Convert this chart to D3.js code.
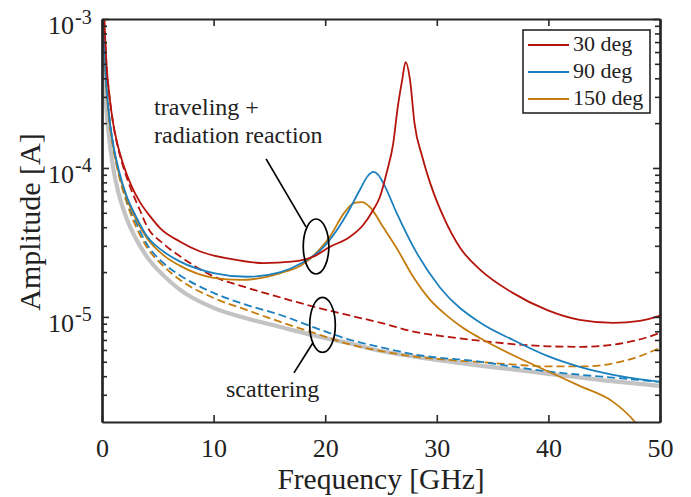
<!DOCTYPE html>
<html><head><meta charset="utf-8">
<script src="https://cdn.jsdelivr.net/npm/d3@7"></script>
<style>
body{margin:0;background:#fff}
svg{display:block;background:#fff}
text{font-family:"Liberation Serif","Times New Roman",serif;fill:#222}
</style>
</head><body>
<svg id="c" width="691" height="497"></svg>
<script>
// ---------- data (frequency in GHz, amplitude in A) ----------
const xTicks = [0, 10, 20, 30, 40, 50];
const yMajor = [1e-3, 1e-4, 1e-5];
const yMajorLabels = ["-3", "-4", "-5"];
const seriesNames = ["30 deg", "90 deg", "150 deg"];

// 30 deg traveling + radiation reaction (solid)
const redSolidF = [0.2,0.4,0.7,1.0,1.4,1.9,2.6,3.4,4.3,5.2,7,8.8,11.5,14.5,17,19,20.4,22.2,23.4,24.3,24.9,25.5,26.1,26.5,26.9,27.2,27.6,28.0,28.7,29.4,30.6,32.1,33.9,36.8,39.9,42.8,45.8,48.2,50];
const redSolidV = [1e-3,5e-4,2.9e-4,2.0e-4,1.43e-4,1.06e-4,7.7e-5,5.9e-5,4.75e-5,3.95e-5,3.2e-5,2.75e-5,2.45e-5,2.3e-5,2.35e-5,2.55e-5,2.95e-5,3.44e-5,4.14e-5,5.22e-5,6.38e-5,9.24e-5,1.47e-4,2.56e-4,3.9e-4,5.14e-4,3.9e-4,2.0e-4,1.19e-4,7.94e-5,4.69e-5,2.9e-5,2.07e-5,1.45e-5,1.11e-5,9.55e-6,9.12e-6,9.4e-6,1.02e-5];
// 90 deg (solid)
const blueSolidF = [0.15,0.3,0.6,1.0,1.5,2.2,3,4,5.5,7,10,13,16,17.9,19.6,20.4,22,23.1,23.8,24.3,24.8,25.2,26.4,27.9,30.3,33.9,36.8,39.9,42.8,45.8,50];
const blueSolidV = [1e-3,4.8e-4,2.4e-4,1.45e-4,9.7e-5,6.5e-5,4.8e-5,3.5e-5,2.75e-5,2.35e-5,1.97e-5,1.86e-5,2.0e-5,2.3e-5,2.82e-5,3.29e-5,4.99e-5,7.11e-5,8.8e-5,9.4e-5,8.9e-5,7.94e-5,4.99e-5,2.95e-5,1.57e-5,9.12e-6,7.02e-6,5.47e-6,4.62e-6,4.08e-6,3.66e-6];
// 150 deg (solid)
const orangeSolidF = [0.14,0.3,0.6,1.0,1.5,2.2,3,4,5.5,7,10,12.4,16,17.9,19.7,20.4,21.7,22.6,23.3,24,25.2,26.4,27.9,29.4,30.9,32.3,33.9,36.8,39.9,42.8,45.8,47.8,48.6];
const orangeSolidV = [1e-3,4.6e-4,2.3e-4,1.4e-4,9.3e-5,6.3e-5,4.6e-5,3.4e-5,2.6e-5,2.2e-5,1.83e-5,1.77e-5,1.97e-5,2.23e-5,2.95e-5,3.44e-5,4.99e-5,5.82e-5,5.9e-5,5.47e-5,4.0e-5,2.9e-5,1.85e-5,1.3e-5,1.02e-5,8.5e-6,7.2e-6,5.55e-6,4.33e-6,3.44e-6,2.69e-6,1.95e-6,1.6e-6];
// scattering (dashed)
const redDashF = [0.2,0.4,0.7,1.0,1.4,1.9,2.6,3.4,4,5.5,7,10,13,16,19,22,25,28,31,34,37,40,43,46,48,50];
const redDashV = [1e-3,5e-4,2.9e-4,1.98e-4,1.4e-4,1.02e-4,7.2e-5,5.2e-5,4.1e-5,3.1e-5,2.55e-5,1.87e-5,1.57e-5,1.35e-5,1.17e-5,1.03e-5,9.12e-6,7.94e-6,7.35e-6,6.9e-6,6.55e-6,6.35e-6,6.3e-6,6.55e-6,7.0e-6,7.8e-6];
const blueDashF = [0.15,0.3,0.6,1.0,1.5,2.2,3,4,5.5,7,10,13,16,19,22,25,28,34,37,40,43,46,50];
const blueDashV = [1e-3,4.8e-4,2.4e-4,1.42e-4,9.4e-5,6.2e-5,4.4e-5,3.1e-5,2.3e-5,1.9e-5,1.45e-5,1.2e-5,1.03e-5,8.5e-6,7.1e-6,6.25e-6,5.6e-6,4.99e-6,4.62e-6,4.3e-6,4.08e-6,3.9e-6,3.66e-6];
const orangeDashF = [0.14,0.3,0.6,1.0,1.5,2.2,3,4,5.5,7,10,13,16,19,22,25,28,31,34,37,40,43,46,48,50];
const orangeDashV = [1e-3,4.6e-4,2.3e-4,1.37e-4,9e-5,5.9e-5,4.1e-5,2.95e-5,2.2e-5,1.77e-5,1.34e-5,1.11e-5,9.25e-6,7.81e-6,6.6e-6,5.9e-6,5.42e-6,5.15e-6,4.97e-6,4.78e-6,4.65e-6,4.65e-6,4.91e-6,5.39e-6,6.2e-6];
// reference (gray, thick)
const grayF = [0.1,0.3,0.6,1.0,1.5,2.2,3,4,5.5,7,10,13,16,19,22,25,30,35,40,45,50];
const grayV = [1e-3,3.3e-4,1.7e-4,1.0e-4,6.7e-5,4.6e-5,3.4e-5,2.55e-5,1.9e-5,1.52e-5,1.15e-5,9.75e-6,8.55e-6,7.5e-6,6.7e-6,5.9e-6,5.15e-6,4.6e-6,4.15e-6,3.75e-6,3.44e-6];

// annotation anchors (data units)
const ellipses = [{f:19.18, v:2.97e-5}, {f:19.76, v:8.83e-6}];
const pointers = [{f1:14.7, v1:1.15e-4, f2:18.28, v2:4.02e-5}, {f1:18.9, v1:6.7e-6, f2:17.2, v2:4.21e-6}];

// ---------- chart ----------
const RED = "#B5140C", BLUE = "#1C80BE", ORANGE = "#C47C0C", GRAY = "#C3C3C3", INK = "#262626";
const svg = d3.select("#c");
const x = d3.scaleLinear().domain([0, 50]).range([102, 660]);
const y = d3.scaleLog().domain([1.97e-6, 1e-3]).range([422, 19]);

svg.append("defs").append("clipPath").attr("id", "clip")
  .append("rect").attr("x", 102).attr("y", 19).attr("width", 558).attr("height", 403);

const zip = (F, V) => F.map((f, i) => ({f, v: V[i]}));
const line = d3.line().x(d => x(d.f)).y(d => y(d.v)).curve(d3.curveMonotoneX);
const plot = svg.append("g").attr("clip-path", "url(#clip)");

const LW = 1.8;
const curves = [
  {d: zip(grayF, grayV), c: GRAY, w: 4.2, dash: null},
  {d: zip(orangeDashF, orangeDashV), c: ORANGE, w: LW, dash: "8,4"},
  {d: zip(blueDashF, blueDashV), c: BLUE, w: LW, dash: "8,4"},
  {d: zip(redDashF, redDashV), c: RED, w: LW, dash: "8,4"},
  {d: zip(orangeSolidF, orangeSolidV), c: ORANGE, w: LW, dash: null},
  {d: zip(blueSolidF, blueSolidV), c: BLUE, w: LW, dash: null},
  {d: zip(redSolidF, redSolidV), c: RED, w: LW, dash: null}
];
curves.forEach(s => {
  plot.append("path").datum(s.d).attr("d", line)
    .attr("fill", "none").attr("stroke", s.c).attr("stroke-width", s.w)
    .attr("stroke-dasharray", s.dash).attr("stroke-linejoin", "round");
});

// axes
const minors = [];
for (let e = -6; e <= -4; e++) for (let m = 2; m <= 9; m++) {
  const v = m * Math.pow(10, e);
  if (v > 2.05e-6 && v < 1e-3) minors.push(v);
}
function styleAxis(g) {
  g.select(".domain").attr("stroke", INK).attr("stroke-width", 2.2);
  g.selectAll(".tick line").attr("stroke", INK).attr("stroke-width", 1.6);
}
const gx = svg.append("g").attr("transform", "translate(0,422)")
  .call(d3.axisBottom(x).tickValues(xTicks).tickSize(-7).tickSizeOuter(0).tickFormat(d3.format("d")));
styleAxis(gx);
gx.selectAll(".tick text").attr("y", 34.5).attr("dy", 0)
  .style("font-family", '"Liberation Serif","Times New Roman",serif').style("font-size", "26px").attr("fill", "#222");
const gxt = svg.append("g").attr("transform", "translate(0,19)")
  .call(d3.axisTop(x).tickValues(xTicks).tickSize(-7).tickSizeOuter(0).tickFormat(""));
styleAxis(gxt);

[["left", 102, d3.axisLeft], ["right", 660, d3.axisRight]].forEach(([side, px, ax]) => {
  const gM = svg.append("g").attr("transform", `translate(${px},0)`)
    .call(ax(y).tickValues(yMajor).tickSize(-7).tickSizeOuter(0).tickFormat(""));
  styleAxis(gM);
  const gm = svg.append("g").attr("transform", `translate(${px},0)`)
    .call(ax(y).tickValues(minors).tickSize(-5).tickSizeOuter(0).tickFormat(""));
  styleAxis(gm);
});

// y tick labels with superscripts
yMajor.forEach((v, i) => {
  svg.append("text").attr("x", 74).attr("y", y(v) + 15).attr("text-anchor", "end")
    .style("font-size", "26px").text("10");
  svg.append("text").attr("x", 75).attr("y", y(v) + 4.5).attr("text-anchor", "start")
    .style("font-size", "20px").text(yMajorLabels[i]);
});

// axis titles
svg.append("text").attr("x", 381).attr("y", 489).attr("text-anchor", "middle")
  .style("font-size", "29.5px").text("Frequency [GHz]");
svg.append("text").attr("transform", "translate(40,222) rotate(-90)").attr("text-anchor", "middle")
  .style("font-size", "30px").text("Amplitude [A]");

// annotations
const ann = svg.append("g");
ellipses.forEach(e => {
  ann.append("ellipse").attr("cx", x(e.f)).attr("cy", y(e.v)).attr("rx", 12.8).attr("ry", 27.5)
    .attr("fill", "none").attr("stroke", "#000").attr("stroke-width", 1.7);
});
pointers.forEach(p => {
  ann.append("line").attr("x1", x(p.f1)).attr("y1", y(p.v1)).attr("x2", x(p.f2)).attr("y2", y(p.v2))
    .attr("stroke", "#000").attr("stroke-width", 1.7);
});
ann.append("text").attr("x", 154).attr("y", 115).style("font-size", "24px").text("traveling +");
ann.append("text").attr("x", 154).attr("y", 143).style("font-size", "24px").text("radiation reaction");
ann.append("text").attr("x", 226).attr("y", 397).style("font-size", "24px").text("scattering");

// legend
const lg = svg.append("g");
lg.append("rect").attr("x", 523).attr("y", 30).attr("width", 127).attr("height", 83)
  .attr("fill", "#fff").attr("stroke", INK).attr("stroke-width", 1.6);
[RED, BLUE, ORANGE].forEach((c, i) => {
  const yy = 45 + i * 27;
  lg.append("line").attr("x1", 528).attr("x2", 569).attr("y1", yy).attr("y2", yy)
    .attr("stroke", c).attr("stroke-width", LW);
  lg.append("text").attr("x", 573).attr("y", yy + 6).style("font-size", "22px").text(seriesNames[i]);
});
</script>
</body></html>
